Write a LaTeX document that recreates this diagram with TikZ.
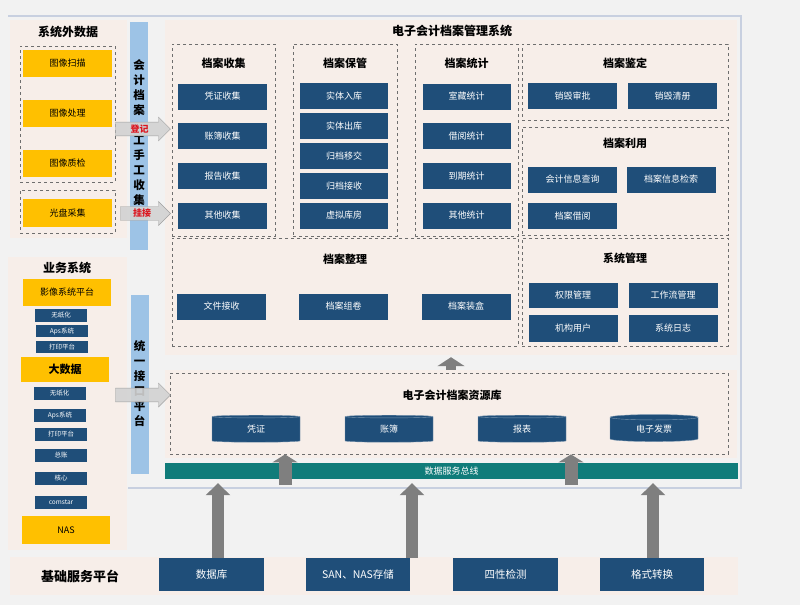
\documentclass[tikz,border=0pt]{standalone}
\usepackage{fontspec}
\setmainfont{Noto Sans CJK SC}
\usepackage{tikz}
\usetikzlibrary{shapes.geometric, shapes.arrows, arrows.meta, calc}
\definecolor{pagebg}{RGB}{242, 242, 242}
\definecolor{framegray}{RGB}{200, 208, 224}
\definecolor{sandbg}{RGB}{247, 238, 233}
\definecolor{dashgray}{RGB}{110, 110, 110}
\definecolor{boxblue}{RGB}{31, 78, 121}
\definecolor{goldbox}{RGB}{255, 192, 0}
\definecolor{barblue}{RGB}{157, 195, 230}
\definecolor{busteal}{RGB}{16, 124, 122}
\definecolor{arrowgray}{RGB}{127, 127, 127}
\definecolor{tagred}{RGB}{220, 20, 30}

\begin{document}
\begin{tikzpicture}[x=1pt, y=-1pt,
    panel/.style={fill=sandbg, inner sep=0pt},
    grp/.style={draw=dashgray, dashed, line width=0.8pt, inner sep=0pt},
    title/.style={font=\bfseries\fontsize{11}{13}\selectfont, inner sep=0pt},
    item/.style={fill=boxblue, text=white, inner sep=0pt, minimum width=89pt, minimum height=26pt, font=\fontsize{9}{10}\selectfont},
    tiny/.style={fill=boxblue, text=white, inner sep=0pt, minimum width=52pt, minimum height=13pt, font=\fontsize{6.5}{7}\selectfont},
    gold/.style={fill=goldbox, inner sep=0pt, minimum width=89pt, minimum height=27pt, font=\fontsize{9}{10}\selectfont},
    vbar/.style={fill=barblue, inner sep=0pt, minimum width=18pt, align=center, font=\bfseries\fontsize{11.5}{15}\selectfont},
    fatarrow/.style={single arrow, single arrow head extend=5pt, fill=gray!35, draw=gray!75, fill opacity=0.9, text opacity=1, inner sep=2.5pt, font=\bfseries\fontsize{9}{10}\selectfont, text=tagred},
    store/.style={cylinder, shape border rotate=90, aspect=0.15, fill=boxblue, draw=boxblue!60!white, text=white, inner sep=0pt, minimum width=88pt, minimum height=27pt, font=\fontsize{9}{10}\selectfont},
    uparrow/.style={draw=arrowgray, line width=12pt, -{Triangle[width=24pt, length=12pt]}},
    base/.style={fill=boxblue, text=white, inner sep=0pt, minimum width=104pt, minimum height=33pt, font=\fontsize{10.5}{12}\selectfont}]
    \useasboundingbox (0,0) rectangle (800,605);
    \fill[pagebg] (0,0) rectangle (800,605);
    \draw[framegray, line width=1.5pt] (8,16) -- (741,16) -- (741,488) -- (128,488);

    % left: data from outside
    \node (extpanel) [panel, minimum width=117pt, minimum height=218pt] at (68.5,129) {};
    \node (exttitle) [title, font=\bfseries\fontsize{12}{14}\selectfont] at (68,32) {系统外数据};
    \node (gscan) [grp, minimum width=95pt, minimum height=136pt] at (67.5,114) {};
    \node (scan) [gold] at (67.5,63.5) {图像扫描};
    \node (proc) [gold] at (67.5,113) {图像处理};
    \node (check) [gold] at (67.5,163) {图像质检};
    \node (gdisc) [grp, minimum width=95pt, minimum height=43pt] at (67.5,211.5) {};
    \node (disc) [gold, minimum height=28pt] at (67.5,213) {光盘采集};

    % left: business systems
    \node (bizpanel) [panel, minimum width=119pt, minimum height=293pt] at (67.5,403.5) {};
    \node (biztitle) [title, font=\bfseries\fontsize{12}{14}\selectfont] at (67,268) {业务系统};
    \node (imgplat) [gold, minimum width=88pt] at (67,292.5) {影像系统平台};
    \node (nopaper1) [tiny] at (61,315.5) {无纸化};
    \node (aps1) [tiny, minimum height=12pt] at (62,331) {Aps系统};
    \node (print1) [tiny, minimum height=12pt] at (62,347) {打印平台};
    \node (bigdata) [gold, minimum width=88pt, minimum height=25pt, font=\bfseries\fontsize{11}{13}\selectfont] at (65,369.5) {大数据};
    \node (nopaper2) [tiny] at (59.5,393) {无纸化};
    \node (aps2) [tiny] at (60,415) {Aps系统};
    \node (print2) [tiny] at (61,434.5) {打印平台};
    \node (ledger) [tiny] at (61,455) {总账};
    \node (core) [tiny] at (61,478.5) {核心};
    \node (comstar) [tiny] at (61,502.5) {comstar};
    \node (nas) [gold, minimum width=88pt, minimum height=28pt] at (66,530) {NAS};

    % interface bars
    \node (manualbar) [vbar, minimum height=228pt] at (139,136) {};
    \node (manualtxt) [vbar, fill=none] at (139,133) {会\\计\\档\\案\\\phantom{工}\\工\\手\\工\\收\\集};
    \node (apibar) [vbar, minimum height=179pt] at (139.5,384) {统\\一\\接\\口\\平\\台};

    % management system
    \node (mainsys) [panel, minimum width=572pt, minimum height=335pt] at (451,187.5) {};
    \node (maintitle) [title, font=\bfseries\fontsize{12}{14}\selectfont] at (452,31) {电子会计档案管理系统};

    \node (gcollect) [grp, minimum width=103pt, minimum height=192pt] at (223.5,140) {};
    \node (gkeep) [grp, minimum width=104pt, minimum height=192pt] at (345,140) {};
    \node (gstat) [grp, minimum width=103pt, minimum height=192pt] at (466.5,140) {};
    \node (gident) [grp, minimum width=206pt, minimum height=76pt] at (625,82) {};
    \node (guse) [grp, minimum width=206pt, minimum height=108pt] at (625,181) {};
    \node (gsort) [grp, minimum width=346pt, minimum height=108pt] at (345,292) {};
    \node (gsys) [grp, minimum width=206pt, minimum height=108pt] at (625,292) {};

    \node [title] at (223.5,63) {档案收集};
    \node [title] at (345,63) {档案保管};
    \node [title] at (466.5,63) {档案统计};
    \node [title] at (625,63) {档案鉴定};
    \node [title] at (625,143) {档案利用};
    \node [title] at (345,259) {档案整理};
    \node [title] at (625,258) {系统管理};

    \foreach \name/\txt/\y in {c1/凭证收集/96.5, c2/账簿收集/136, c3/报告收集/176, c4/其他收集/215.5}
        \node (\name) [item] at (222.5,\y) {\txt};
    \foreach \name/\txt/\y in {k1/实体入库/96, k2/实体出库/126, k3/归档移交/156, k4/归档接收/186, k5/虚拟库房/215.5}
        \node (\name) [item, minimum width=88pt] at (344,\y) {\txt};
    \foreach \name/\txt/\y in {s1/室藏统计/96.5, s2/借阅统计/136, s3/到期统计/176, s4/其他统计/215.5}
        \node (\name) [item, minimum width=88pt] at (466.5,\y) {\txt};

    \node (destroyok) [item] at (572.5,96) {销毁审批};
    \node (destroylist) [item] at (672.5,96) {销毁清册};
    \node (infoquery) [item] at (572.5,179.5) {会计信息查询};
    \node (infosearch) [item] at (671,179.5) {档案信息检索};
    \node (borrow) [item] at (572.5,216) {档案借阅};
    \node (filein) [item] at (221.5,306.5) {文件接收};
    \node (volume) [item] at (343.5,306.5) {档案组卷};
    \node (boxing) [item] at (466,306.5) {档案装盒};
    \node (rights) [item, minimum height=25pt] at (573,295.5) {权限管理};
    \node (flow) [item, minimum height=25pt] at (673,295.5) {工作流管理};
    \node (orgs) [item, minimum height=27pt] at (573,328.5) {机构用户};
    \node (logs) [item, minimum height=27pt] at (673,328.5) {系统日志};

    % resource library
    \node (libpanel) [panel, minimum width=572pt, minimum height=88pt] at (451,414) {};
    \node (libgrp) [grp, minimum width=558pt, minimum height=81pt] at (449,413.5) {};
    \node (libtitle) [title] at (452,395) {电子会计档案资源库};
    \node (voucher) [store] at (256,429.5) {凭证};
    \node (books) [store] at (389,429.5) {账簿};
    \node (report) [store] at (522,429.5) {报表};
    \node (invoice) [store] at (654,429.5) {电子发票};

    \node (bus) [fill=busteal, text=white, inner sep=0pt, minimum width=573pt, minimum height=16pt, font=\fontsize{9}{10}\selectfont] at (451.5,471) {数据服务总线};

    % base services
    \node (basepanel) [panel, minimum width=728pt, minimum height=38pt] at (374,576) {};
    \node (basetitle) [font=\bfseries\fontsize{13}{15}\selectfont] at (80,576) {基础服务平台};
    \node (db) [base, minimum width=105pt] at (211.5,574.5) {数据库};
    \node (san) [base] at (358,574.5) {SAN、NAS存储};
    \node (four) [base, minimum width=105pt] at (505.5,574.5) {四性检测};
    \node (fmt) [base] at (652,574.5) {格式转换};

    % arrows
    \node (regarrow) [fatarrow, minimum height=55pt] at (139.5,129) {登记};
    \node (linkarrow) [fatarrow, minimum height=50pt] at (142,213.5) {挂接};
    \node (apiarrow) [fatarrow, minimum height=55pt] at (139.5,395) {\phantom{登记}};

    \draw[uparrow] ([xshift=6.5pt]db.north) -- ([xshift=6.5pt, yshift=-4pt]db.north |- bus.south);
    \draw[uparrow] ([xshift=54pt]san.north) -- ([xshift=54pt, yshift=-4pt]san.north |- bus.south);
    \draw[uparrow] ([xshift=1pt]fmt.north) -- ([xshift=1pt, yshift=-4pt]fmt.north |- bus.south);
    \draw[uparrow, line width=13pt, -{Triangle[width=25pt, length=8pt]}] ([xshift=-166.5pt, yshift=-6pt]bus.south) -- ([xshift=-166.5pt]bus.south |- libgrp.south);
    \draw[uparrow, line width=13pt, -{Triangle[width=25pt, length=8pt]}] ([xshift=119.5pt, yshift=-6pt]bus.south) -- ([xshift=119.5pt]bus.south |- libgrp.south);
    \draw[uparrow, line width=10pt, -{Triangle[width=27pt, length=9pt]}] (libpanel.north) -- ([yshift=-2pt]mainsys.south);
\end{tikzpicture}
\end{document}
